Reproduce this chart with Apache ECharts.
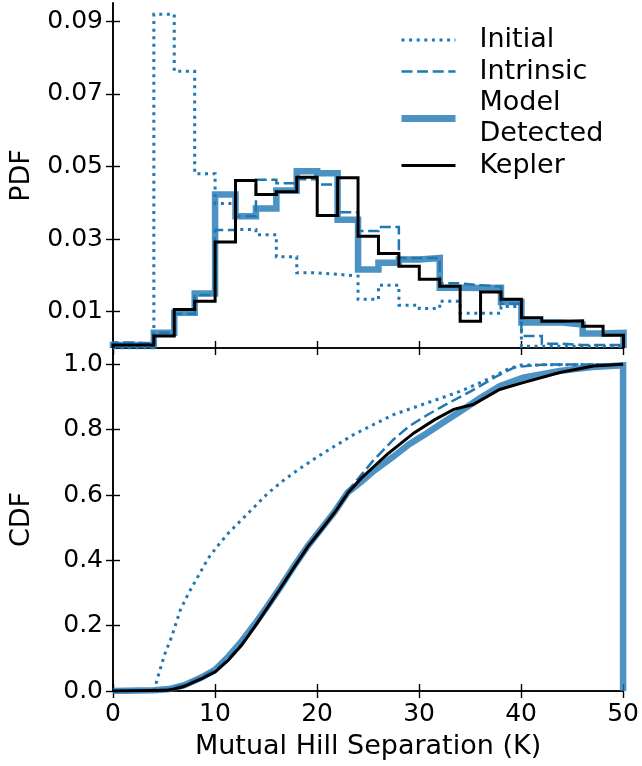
<!DOCTYPE html>
<html>
<head>
<meta charset="utf-8">
<script src="https://cdn.jsdelivr.net/npm/echarts@6/dist/echarts.min.js"></script>
<style>html,body{margin:0;padding:0;background:#fff;}#c{width:642px;height:766px;}</style>
</head>
<body>
<div id="c"></div>
<script>
// ---- data ----
const binEdges = [0,2,4,6,8,10,12,14,16,18,20,22,24,26,28,30,32,34,36,38,40,42,44,46,48,50];
const pdfInitial   = [0,0,0.0919,0.0762,0.0480,0.0398,0.0326,0.0312,0.0251,0.0207,0.0203,0.0198,0.0134,0.0173,0.0118,0.0109,0.0129,0.0096,0.0096,0.0114,0.0005,0.0005,0.0005,0.0005,0.0005];
const pdfIntrinsic = [0.0015,0.0012,0.0042,0.0094,0.0146,0.0325,0.0363,0.0463,0.0454,0.0465,0.0450,0.0374,0.0322,0.0333,0.0248,0.0248,0.0178,0.0173,0.0169,0.0122,0.0033,0.0012,0.0008,0.0008,0.0008];
const pdfModel     = [0.0008,0.0008,0.0042,0.0097,0.0150,0.0423,0.0363,0.0384,0.0434,0.0487,0.0481,0.0353,0.0216,0.0235,0.0244,0.0248,0.0166,0.0165,0.0166,0.0127,0.0070,0.0070,0.0065,0.0040,0.0042];
const pdfKepler    = [0.0008,0.0008,0.0033,0.0106,0.0129,0.0292,0.0461,0.0423,0.0430,0.0470,0.0365,0.0469,0.0308,0.0260,0.0225,0.0189,0.0170,0.0074,0.0154,0.0134,0.0083,0.0074,0.0075,0.0060,0.0035];

const cdfInitialX = [4.0,4.6,5.1,5.75,6.6,7.4,8.05,8.7,9.35,10.2,11.3,12.6,13.9,15.2,16.8,18.4,20.1,21.7,23.6,25.5,27.5,30.8,34.1,36.7,38.7,40,50];
const cdfInitialY = [0.0,0.064,0.115,0.166,0.248,0.299,0.335,0.371,0.407,0.442,0.483,0.524,0.565,0.606,0.647,0.683,0.718,0.749,0.785,0.815,0.846,0.882,0.918,0.954,0.985,0.998,1.0];
const cdfIntrinsicX = [0,4,5.5,7,8.7,10,11.3,12.6,13.9,15.2,16.5,17.8,19.1,20.4,21.7,23,24.3,25.5,27.5,29,30.8,32.8,35.1,37.7,39.3,40,42,50];
const cdfIntrinsicY = [0,0.002,0.007,0.019,0.043,0.064,0.100,0.145,0.200,0.258,0.318,0.380,0.440,0.494,0.548,0.612,0.660,0.705,0.770,0.810,0.845,0.880,0.918,0.965,0.990,0.993,0.999,1.0];
const cdfModelX = [0,4,5.5,7,8.7,10,11.3,12.6,13.9,15.2,16.5,17.8,19.1,20.4,21.7,23,24.3,25.5,27.5,29,30.8,32.5,34.1,36,37.9,40.2,43.8,47,50,50];
const cdfModelY = [0,0.002,0.006,0.018,0.042,0.065,0.105,0.152,0.205,0.262,0.322,0.385,0.444,0.496,0.548,0.608,0.640,0.672,0.718,0.755,0.790,0.825,0.857,0.897,0.933,0.959,0.980,0.992,0.997,0];
const cdfKeplerX = [0,5.3,6.8,8.7,10,11.3,12.6,13.9,15.2,16.5,17.8,19.1,20.4,21.7,23,24.3,25.5,26.9,29.5,31.5,33.4,35.3,37.9,40.2,43.8,47.1,50];
const cdfKeplerY = [0,0.002,0.012,0.038,0.058,0.094,0.140,0.197,0.258,0.319,0.381,0.442,0.493,0.545,0.605,0.650,0.685,0.725,0.790,0.830,0.862,0.877,0.923,0.944,0.975,0.995,1.0];

const pdfTicks = [0.01,0.03,0.05,0.07,0.09];
const cdfTicks = [0,0.2,0.4,0.6,0.8,1.0];

// ---- build ----
function stepData(vals){
  const n = vals.length;
  const d = [[binEdges[0],0]];
  for(let i=0;i<n;i++) d.push([binEdges[i], vals[i]]);
  d.push([binEdges[n], vals[n-1]]);
  d.push([binEdges[n], 0]);
  return d;
}
function zip(xs, ys){ return xs.map((x,i)=>[x, ys[i]]); }

const FONT = 'DejaVu Sans';
const BLUE = '#1f77b4';
const MODEL = 'rgba(31,119,180,0.8)';
const DOT = [3,4.6];
const DASH = [11,4.6];
const TICKFS = 25, LABFS = 27;

const axisLine = {show:true, lineStyle:{color:'#000', width:1.6}};
const tick = {show:true, inside:true, length:7, lineStyle:{color:'#000', width:1.4}};
function xAx(grid, pos, labels){
  return {type:'value', gridIndex:grid, position:pos, min:0, max:50, interval:10,
    axisLine, axisTick:tick, splitLine:{show:false},
    axisLabel:{show:labels, fontSize:TICKFS, fontFamily:FONT, color:'#000', margin:11}};
}
function yAx(grid, pos, labels, max, ticks, fmt, name){
  const a = {type:'value', gridIndex:grid, position:pos, min:0, max:max,
    axisLine, splitLine:{show:false},
    axisTick:Object.assign({}, tick, {customValues:ticks}),
    axisLabel:{show:labels, customValues:ticks, fontSize:TICKFS, fontFamily:FONT, color:'#000', margin:10, formatter:fmt}};
  if(name){ Object.assign(a,{name:name, nameLocation:'middle', nameGap:78, nameRotate:90,
    nameTextStyle:{fontSize:LABFS, fontFamily:FONT, color:'#000'}}); }
  return a;
}

const xAxes = [xAx(0,'bottom',false), xAx(0,'top',false), xAx(1,'bottom',true), xAx(1,'top',false)];
xAxes[2].name = 'Mutual Hill Separation (K)';
xAxes[2].nameLocation = 'middle';
xAxes[2].nameGap = 42;
xAxes[2].nameTextStyle = {fontSize:LABFS, fontFamily:FONT, color:'#000'};

const yAxes = [
  yAx(0,'left',true,0.095,pdfTicks,v=>v.toFixed(2),'PDF'),
  yAx(0,'right',false,0.095,pdfTicks,v=>v.toFixed(2)),
  yAx(1,'left',true,1.05,cdfTicks,v=>v.toFixed(1),'CDF'),
  yAx(1,'right',false,1.05,cdfTicks,v=>v.toFixed(1))
];

function line(name, data, xi, yi, color, width, type, step){
  return {type:'line', name:name, xAxisIndex:xi, yAxisIndex:yi, data:data, step:step||false,
    symbol:'none', showSymbol:false, animation:false, clip:true,
    lineStyle:{color:color, width:width, type:type, cap:'butt', join:'miter'},
    itemStyle:{color:color}};
}

const series = [
  line('Model\nDetected', stepData(pdfModel), 0, 0, MODEL, 6.5, 'solid', 'end'),
  line('Initial', stepData(pdfInitial), 0, 0, BLUE, 3, DOT, 'end'),
  line('Intrinsic', stepData(pdfIntrinsic), 0, 0, BLUE, 2.5, DASH, 'end'),
  line('Kepler', stepData(pdfKepler), 0, 0, '#000', 3, 'solid', 'end'),
  line('Model\nDetected', zip(cdfModelX, cdfModelY), 2, 2, MODEL, 6.5, 'solid'),
  line('Initial', zip(cdfInitialX, cdfInitialY), 2, 2, BLUE, 3, DOT),
  line('Intrinsic', zip(cdfIntrinsicX, cdfIntrinsicY), 2, 2, BLUE, 2.5, DASH),
  line('Kepler', zip(cdfKeplerX, cdfKeplerY), 2, 2, '#000', 3, 'solid')
];

const hiddenSym = {opacity:0, color:'rgba(0,0,0,0)', borderWidth:0, borderColor:'rgba(0,0,0,0)'};

const chart = echarts.init(document.getElementById('c'), null, {renderer:'canvas'});
chart.setOption({
  backgroundColor:'#fff',
  animation:false,
  textStyle:{fontFamily:FONT},
  grid:[
    {left:111, top:3, width:512.5, height:345},
    {left:111, top:348, width:512.5, height:343}
  ],
  xAxis:xAxes,
  yAxis:yAxes,
  legend:{
    orient:'vertical', left:393, top:19.5, itemWidth:54, itemHeight:14, itemGap:0.5,
    selectedMode:false,
    itemStyle:hiddenSym,
    textStyle:{fontSize:LABFS, lineHeight:31, fontFamily:FONT, color:'#000', padding:[0,0,0,19]},
    data:[
      {name:'Initial', lineStyle:{width:3, type:DOT}, itemStyle:hiddenSym},
      {name:'Intrinsic', lineStyle:{width:2.5, type:DASH}, itemStyle:hiddenSym},
      {name:'Model\nDetected', lineStyle:{width:7}, itemStyle:hiddenSym},
      {name:'Kepler', lineStyle:{width:3}, itemStyle:hiddenSym}
    ]
  },
  series:series
});
</script>
</body>
</html>
